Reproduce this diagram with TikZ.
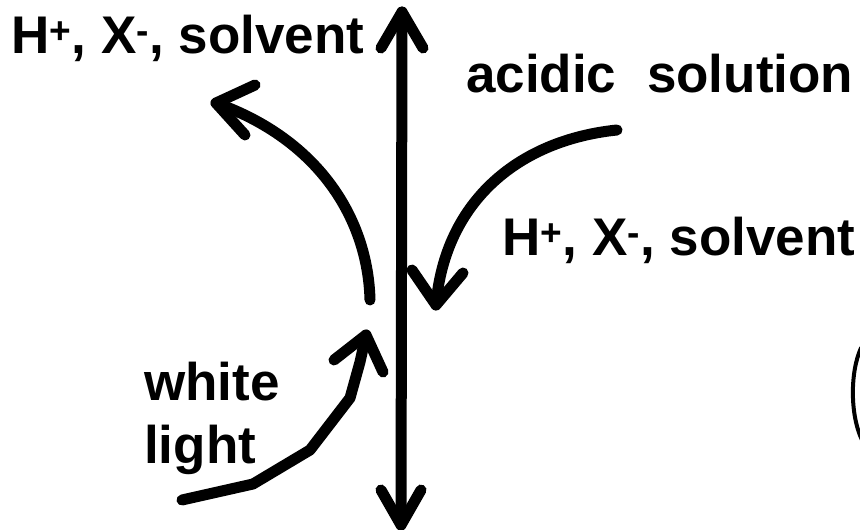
\documentclass[tikz,border=0pt]{standalone}
\usepackage{fontspec}
\setmainfont{Liberation Sans}
\begin{document}
\begin{tikzpicture}[x=1pt,y=-1pt,
  lbl/.style={font=\fontsize{53}{58}\selectfont\bfseries, inner sep=0pt, anchor=base west},
  arr/.style={line width=11pt, line cap=round, line join=round, draw=black},
  thin arc/.style={line width=4pt, line cap=round, draw=black}
]
\useasboundingbox (0,0) rectangle (860,530);
% labels
\node[lbl] (tl) at (11,53) {H\textsuperscript{+}, X\textsuperscript{-}, solvent};
\node[lbl] (acid) at (466,92) {acidic\hspace{0.3em} solution};
\node[lbl] (tr) at (502,255) {H\textsuperscript{+}, X\textsuperscript{-}, solvent};
\node[lbl] (white) at (144,400) {white};
\node[lbl] (light) at (144,463) {light};
% vertical double arrow
\coordinate (vt) at (402,12);
\coordinate (vb) at (401,525);
\draw[arr] (vt) -- (vb);
\draw[arr] (381,48) -- (vt) -- (423,48);
\draw[arr] (381,490) -- (vb) -- (421,490);
% left curved arrow (outgoing)
\coordinate (ls) at (370,300);
\coordinate (lt) at (216,103);
\draw[arr] (ls) .. controls (368,220) and (320,140) .. (lt);
\draw[arr] (255,85) -- (lt) -- (245,135);
% right curved arrow (incoming)
\coordinate (rs) at (617,130);
\coordinate (rt) at (436,305);
\draw[arr] (rs) .. controls (520,140) and (445,200) .. (rt);
\draw[arr] (412,270) -- (rt) -- (463,273);
% white light arrow
\coordinate (ws) at (182,500);
\coordinate (wt) at (366,335);
\draw[arr] (ws) -- (253,484) -- (310,450) -- (350,398) -- (360,362) -- (wt);
\draw[arr] (334,360) -- (wt) -- (383,372);
% partial circle at right edge
\coordinate (ca) at (861,348);
\coordinate (cb) at (862,440);
\draw[thin arc] (ca) .. controls (850,372) and (850,415) .. (cb);
\end{tikzpicture}
\end{document}
